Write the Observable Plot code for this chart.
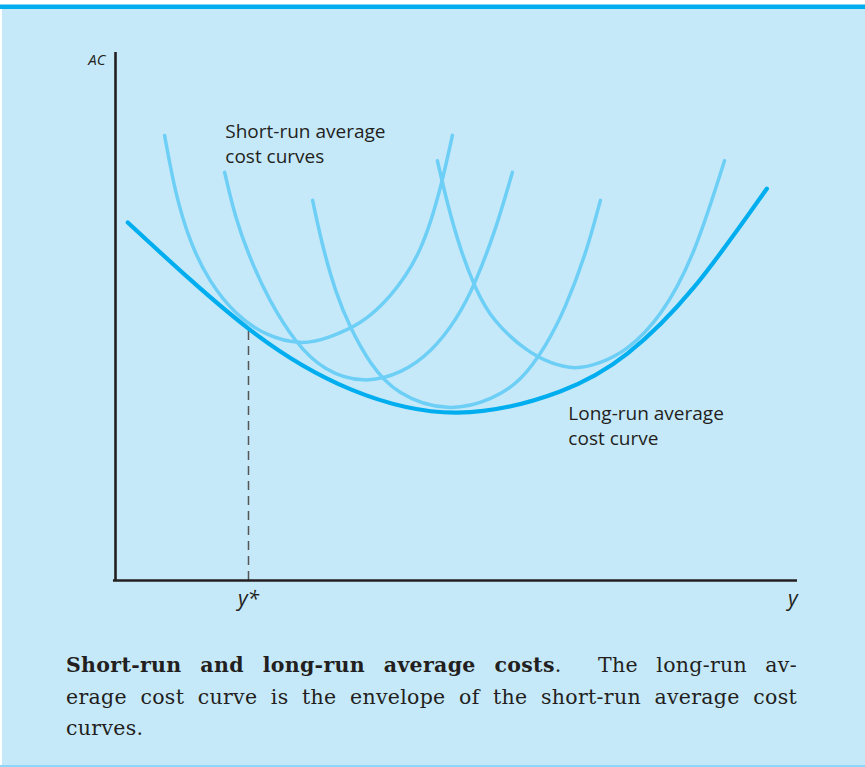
<!DOCTYPE html>
<html>
<head>
<meta charset="utf-8">
<script src="https://cdn.jsdelivr.net/npm/d3@7"></script>
<script src="https://cdn.jsdelivr.net/npm/@observablehq/plot@0.6"></script>
<style>
  html, body { margin: 0; padding: 0; background: #ffffff; }
  #page { position: relative; width: 865px; height: 767px; overflow: hidden; }
  #topline { position: absolute; left: 0; top: 4px; width: 865px; height: 1px; background: #7fd3f5; }
  #topbar { position: absolute; left: 0; top: 5px; width: 865px; height: 4px; background: #00aeef; }
  #panel { position: absolute; left: 2px; top: 9px; width: 863px; height: 756px; background: #c6e9f9; }
  #bottomline { position: absolute; left: 0; top: 765px; width: 865px; height: 2px; background: #8dd8f8; }
  #chart { position: absolute; left: 0; top: 0; }
  #caption { position: absolute; left: 66px; top: 650px; width: 731px;
    font-family: "DejaVu Serif", "Liberation Serif", serif; font-size: 20.5px; letter-spacing: 0.3px;
    line-height: 31.5px; color: #231f20; }
  #caption .j { text-align: justify; text-align-last: justify; }
</style>
</head>
<body>
<div id="page">
  <div id="topline"></div>
  <div id="topbar"></div>
  <div id="panel"></div>
  <div id="bottomline"></div>
  <div id="chart"></div>
  <div id="caption">
    <div class="j"><b>Short-run and long-run average costs</b>.&nbsp; The long-run av-</div>
    <div class="j">erage cost curve is the envelope of the short-run average cost</div>
    <div>curves.</div>
  </div>
</div>
<script>
// Long-run average cost curve
const longRunX = [0.18, 1.95, 3.45, 5.01, 6.52, 7.51, 8.48, 9.55];
const longRunY = [6.78, 4.77, 3.62, 3.18, 3.58, 4.30, 5.55, 7.42];

// Short-run average cost curves
const sr1X = [0.72, 0.88, 1.10, 1.39, 1.76, 2.20, 2.71, 3.15, 3.59, 4.03, 4.47, 4.77, 4.94];
const sr1Y = [8.43, 7.39, 6.44, 5.68, 5.08, 4.68, 4.51, 4.62, 4.89, 5.40, 6.29, 7.48, 8.43];

const sr2X = [1.60, 1.76, 1.98, 2.27, 2.64, 3.08, 3.64, 4.18, 4.62, 4.99, 5.28, 5.57, 5.82];
const sr2Y = [7.73, 6.91, 6.10, 5.30, 4.55, 4.02, 3.80, 3.96, 4.36, 4.96, 5.68, 6.67, 7.73];

const sr3X = [2.89, 3.04, 3.23, 3.45, 3.74, 4.18, 4.87, 5.50, 5.94, 6.30, 6.60, 6.89, 7.11];
const sr3Y = [7.20, 6.34, 5.49, 4.79, 4.13, 3.56, 3.28, 3.45, 3.83, 4.45, 5.21, 6.21, 7.20];

const sr4X = [4.72, 4.87, 5.06, 5.28, 5.57, 6.01, 6.38, 6.74, 7.11, 7.51, 7.99, 8.48, 8.93];
const sr4Y = [7.95, 7.14, 6.29, 5.55, 4.92, 4.39, 4.13, 4.03, 4.13, 4.41, 5.06, 6.25, 7.95];

// Tick / axis labels
const xTickValues = [1.95];
const xTickLabels = ["y*"];
const xAxisLabel = "y";
const yAxisLabel = "AC";
const shortRunLabel = "Short-run average\ncost curves";
const longRunLabel = "Long-run average\ncost curve";

// Build tables
const shortRunCurves = [
  {name: "SRAC1", xs: sr1X, ys: sr1Y},
  {name: "SRAC2", xs: sr2X, ys: sr2Y},
  {name: "SRAC3", xs: sr3X, ys: sr3Y},
  {name: "SRAC4", xs: sr4X, ys: sr4Y}
];
const srRows = shortRunCurves.flatMap(c => c.xs.map((x, i) => ({curve: c.name, x, y: c.ys[i]})));
const lrRows = longRunX.map((x, i) => ({x, y: longRunY[i]}));
const ystarY = longRunY[longRunX.indexOf(xTickValues[0])];

const ink = "#231f20";
const labelFont = "'Open Sans', 'Noto Sans', sans-serif";
const chart = Plot.plot({
  width: 865,
  height: 625,
  marginLeft: 115,
  marginRight: 68,
  marginTop: 52,
  marginBottom: 45,
  style: {background: "transparent", overflow: "visible"},
  x: {domain: [0, 10], axis: null},
  y: {domain: [0, 10], axis: null},
  marks: [
    Plot.ruleX(xTickValues, {x: d => d, y1: 0, y2: ystarY, stroke: "#555555", strokeWidth: 1.5, strokeDasharray: "9,6"}),
    Plot.line(srRows, {x: "x", y: "y", z: "curve", stroke: "#6dcff6", strokeWidth: 3.5, curve: "natural"}),
    Plot.line(lrRows, {x: "x", y: "y", stroke: "#00aeef", strokeWidth: 4.2, curve: "natural"}),
    Plot.ruleX([0], {y1: 0, y2: 10, stroke: ink, strokeWidth: 2.6}),
    Plot.ruleY([0], {x1: -0.03, x2: 10, stroke: ink, strokeWidth: 2.6}),
    Plot.text(xTickValues, {x: d => d, y: 0, text: (d, i) => xTickLabels[i], dy: 19, fontSize: 21, fontStyle: "italic", fontFamily: labelFont, fill: ink}),
    Plot.text([xAxisLabel], {x: 9.93, y: 0, text: d => d, dy: 19, fontSize: 21, fontStyle: "italic", fontFamily: labelFont, fill: ink}),
    Plot.text([yAxisLabel], {x: 0, y: 10, text: d => d, dx: -10, dy: 8, textAnchor: "end", fontSize: 15, fontStyle: "italic", fontFamily: labelFont, fill: ink}),
    Plot.text([shortRunLabel], {x: 1.61, y: 8.71, text: d => d, textAnchor: "start", lineAnchor: "top", lineHeight: 1.3, fontSize: 19, fontFamily: labelFont, fill: ink}),
    Plot.text([longRunLabel], {x: 6.64, y: 3.37, text: d => d, textAnchor: "start", lineAnchor: "top", lineHeight: 1.3, fontSize: 19, fontFamily: labelFont, fill: ink})
  ]
});
document.getElementById("chart").appendChild(chart);
</script>
</body>
</html>
